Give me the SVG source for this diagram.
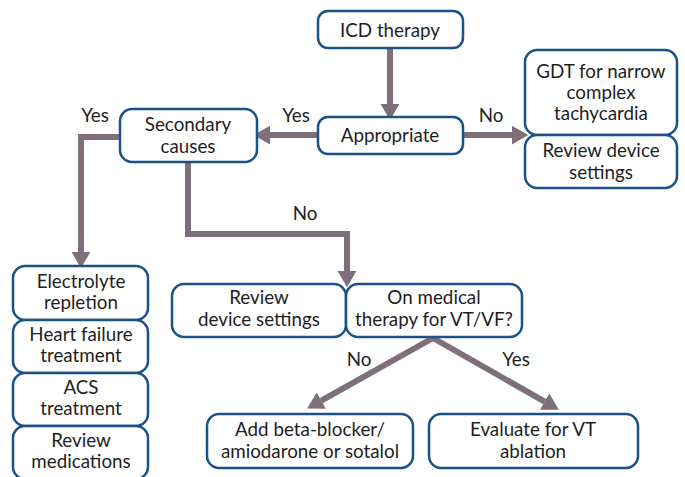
<svg xmlns="http://www.w3.org/2000/svg" width="685" height="477" viewBox="0 0 685 477">
<style>
.box{fill:#fff;stroke:#1b5289;stroke-width:2.5}
.t{font-family:Lato,"Noto Sans",sans-serif;font-size:18.8px;fill:#1e1e1e;text-anchor:middle}
.c{fill:none;stroke:#7e6f7b;stroke-width:6;marker-end:url(#ah)}
</style>
<defs>
<marker id="ah" markerUnits="userSpaceOnUse" markerWidth="20" markerHeight="20" refX="0" refY="0" viewBox="0 -8 14 16" orient="auto">
<path d="M0,-7.5 L13,0 L0,7.5 z" fill="#7e6f7b"/>
</marker>
</defs>
<rect width="685" height="477" fill="#fff"/>
<g id="connectors">
<path class="c" d="M390,49 V104"/>
<path class="c" d="M463,135 H512"/>
<path class="c" d="M318,135 H270"/>
<path class="c" d="M120,137 H81 V252"/>
<path class="c" d="M188,162 V234 H347 V271"/>
<path class="c" d="M433,338 L321.3,400.6"/>
<path class="c" d="M433,338 L544.7,401.6"/>
<text class="t" x="296" y="122">Yes</text>
<text class="t" x="491" y="122">No</text>
<text class="t" x="95" y="122">Yes</text>
<text class="t" x="305" y="220">No</text>
<text class="t" x="359" y="366">No</text>
<text class="t" x="516" y="366">Yes</text>
</g>
<g id="icd"><rect class="box" x="318" y="11" width="145" height="37" rx="10"/><text class="t" x="390" y="37">ICD therapy</text></g>
<g id="appropriate"><rect class="box" x="318" y="117" width="145" height="37" rx="10"/><text class="t" x="390" y="142">Appropriate</text></g>
<g id="gdt"><rect class="box" x="525" y="50" width="152" height="85" rx="12"/><text class="t" x="601" y="78">GDT for narrow</text><text class="t" x="601" y="99">complex</text><text class="t" x="601" y="120">tachycardia</text></g>
<g id="review1"><rect class="box" x="525" y="135" width="152" height="53" rx="12"/><text class="t" x="601" y="157">Review device</text><text class="t" x="601" y="179">settings</text></g>
<g id="secondary"><rect class="box" x="120" y="109" width="137" height="53" rx="12"/><text class="t" x="188" y="131">Secondary</text><text class="t" x="188" y="153">causes</text></g>
<g id="electrolyte"><rect class="box" x="13" y="266" width="135" height="54" rx="12"/><text class="t" x="81" y="288">Electrolyte</text><text class="t" x="81" y="309">repletion</text></g>
<g id="hf"><rect class="box" x="13" y="320" width="135" height="53" rx="12"/><text class="t" x="81" y="341">Heart failure</text><text class="t" x="81" y="362">treatment</text></g>
<g id="acs"><rect class="box" x="13" y="373" width="135" height="53" rx="12"/><text class="t" x="81" y="394">ACS</text><text class="t" x="81" y="415">treatment</text></g>
<g id="meds"><rect class="box" x="13" y="426" width="135" height="53" rx="12"/><text class="t" x="81" y="447">Review</text><text class="t" x="81" y="468">medications</text></g>
<g id="review2"><rect class="box" x="172" y="284" width="174" height="53" rx="12"/><text class="t" x="259" y="304">Review</text><text class="t" x="259" y="326">device settings</text></g>
<g id="medical"><rect class="box" x="346" y="284" width="176" height="53" rx="12"/><text class="t" x="434" y="304">On medical</text><text class="t" x="434" y="326">therapy for VT/VF?</text></g>
<g id="add"><rect class="box" x="207" y="414" width="206" height="54" rx="12"/><text class="t" x="310" y="436">Add beta-blocker/</text><text class="t" x="310" y="458">amiodarone or sotalol</text></g>
<g id="evaluate"><rect class="box" x="429" y="414" width="209" height="54" rx="12"/><text class="t" x="533" y="436">Evaluate for VT</text><text class="t" x="533" y="458">ablation</text></g>
</svg>
